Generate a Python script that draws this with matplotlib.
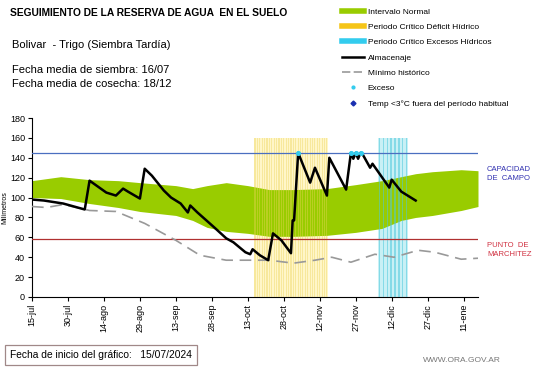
from matplotlib import pyplot as plt
from matplotlib.lines import Line2D
import numpy as np

plt.rcParams['font.family'] = ['Liberation Sans', 'DejaVu Sans']

# days since 15-jul-2024
tick_days = [0, 15, 30, 45, 60, 75, 90, 105, 120, 135, 150, 165, 180]
tick_labels = ['15-jul', '30-jul', '14-ago', '29-ago', '13-sep', '28-sep', '13-oct',
               '28-oct', '12-nov', '27-nov', '12-dic', '27-dic', '11-ene']

# normal interval (green band)
band_days = [0, 12, 24, 36, 45, 60, 67, 73, 81, 90, 99, 109, 123, 135, 146, 154, 160, 167, 179, 186]
band_upper = [117, 121, 118, 117, 115, 112, 109, 112, 115, 112, 108, 108, 109, 113, 117, 121, 124, 126, 128, 127]
band_lower = [100, 99, 94, 90, 86, 82, 77, 70, 66, 64, 61, 61, 62, 65, 69, 77, 80, 82, 87, 91]

# historical minimum
min_days = [0, 6, 13, 24, 35, 47, 60, 70, 81, 91, 99, 109, 118, 125, 133, 143, 151, 161, 168, 179, 186]
min_vals = [91, 90, 93, 87, 86, 74, 57, 42, 37, 37, 37, 34, 37, 40, 35, 43, 40, 47, 45, 38, 39]

# soil water storage
alm_days = [0, 5, 13, 22, 24, 31, 35, 38, 40, 45, 47, 50, 55, 58, 62, 65, 66, 69, 76, 81, 84, 89, 91,
            92, 95, 98.5, 100.5, 104, 108, 108.7, 109.3, 110, 111, 116, 118, 123, 124, 131, 133,
            134, 135, 136, 137, 138, 141, 142, 149, 150, 154, 160]
alm_vals = [98, 97, 94, 88, 117, 105, 102, 109, 106, 99, 129, 122, 107, 100, 94, 85, 92, 85, 70, 59, 55, 45, 43,
            48, 42, 37, 64, 57, 44, 77, 77, 105, 145, 115, 130, 102, 140, 108, 145,
            139, 145, 139, 145, 143, 130, 134, 110, 118, 106, 97]

# excess points
exc_days = [111, 133, 135, 137]
exc_vals = [145, 145, 145, 145]

capacidad = 145
marchitez = 58

# critical periods
deficit_start, deficit_end = 93, 123
excess_start, excess_end = 145, 156

fig = plt.figure(figsize=(5.41, 3.68), dpi=100)
ax = fig.add_axes([32/541, 1-297/368, 446/541, 179/368])

# critical period stripes
yd = np.arange(deficit_start, deficit_end + 1)
ax.bar(yd, 160, width=1.0, color='#FFF6C8', zorder=1)
ax.bar(yd, 160, width=0.45, color='#EDD45A', zorder=3, alpha=0.4)
cd = np.arange(excess_start, excess_end + 1, 1.6)
ax.bar(cd, 160, width=1.6, color='#C8F0F5', zorder=1)
ax.bar(cd, 160, width=0.6, color='#4FC8DC', zorder=3, alpha=0.55)

ax.fill_between(band_days, band_lower, band_upper, color='#99CC00', lw=0, zorder=2)

ax.axhline(capacidad, color='#4A6FC0', lw=0.9, zorder=4)
ax.axhline(marchitez, color='#B03030', lw=0.9, zorder=4)

ax.plot(min_days, min_vals, color='#999999', lw=1.2, ls=(0, (7, 4)), zorder=4)
ax.plot(alm_days, alm_vals, color='black', lw=1.8, zorder=5)
ax.scatter(exc_days, exc_vals, s=7, color='#33CCEE', zorder=6)

ax.set_xlim(0, 186)
ax.set_ylim(0, 180)
ax.set_yticks(range(0, 181, 20))
ax.set_xticks(tick_days)
ax.set_xticklabels(tick_labels, rotation=90)
ax.tick_params(labelsize=6.5, length=3, width=0.8, pad=2)
ax.spines['top'].set_visible(False)
ax.spines['right'].set_visible(False)
ax.set_ylabel('Milímetros', fontsize=5, labelpad=1)

fig.text(487/541, 1-174/368, 'CAPACIDAD\nDE  CAMPO',
         color='#3030B0', fontsize=5.5, va='center', linespacing=1.3)
fig.text(487/541, 1-250/368, 'PUNTO  DE\nMARCHITEZ',
         color='#D03040', fontsize=5.5, va='center', linespacing=1.3)

fig.text(10/541, 1-13/368, 'SEGUIMIENTO DE LA RESERVA DE AGUA  EN EL SUELO', fontsize=7.4,
         fontweight='bold', va='center')
fig.text(12/541, 1-45/368, 'Bolivar  - Trigo (Siembra Tardía)', fontsize=8, va='center')
fig.text(12/541, 1-70/368, 'Fecha media de siembra: 16/07', fontsize=8, va='center')
fig.text(12/541, 1-84/368, 'Fecha media de cosecha: 18/12', fontsize=8, va='center')

handles = [
    Line2D([], [], color='#99CC00', lw=4),
    Line2D([], [], color='#F5C518', lw=4),
    Line2D([], [], color='#33CCEE', lw=4),
    Line2D([], [], color='black', lw=1.8),
    Line2D([], [], color='#999999', lw=1.2, ls=(0, (5, 2))),
    Line2D([], [], color='#33CCEE', marker='o', ms=2, ls='none'),
    Line2D([], [], color='#1A2FB0', marker='D', ms=2.5, ls='none'),
]
labels = ['Intervalo Normal', 'Periodo Crítico Déficit Hídrico', 'Periodo Crítico Excesos Hídricos',
          'Almacenaje', 'Mínimo histórico', 'Exceso', 'Temp <3°C fuera del período habitual']
fig.legend(handles, labels, loc='upper left', bbox_to_anchor=(336/541, 1-2/368), frameon=False,
           fontsize=6, labelspacing=0.9, handlelength=2.6, handletextpad=0.5, borderpad=0.2)

fig.text(10/541, 1-355/368, 'Fecha de inicio del gráfico:   15/07/2024', fontsize=7.4, va='center',
         bbox=dict(boxstyle='square,pad=0.5', fc='white', ec='#A08888', lw=0.9))
fig.text(423/541, 1-360/368, 'WWW.ORA.GOV.AR', fontsize=6, color='#777777', va='center')

plt.savefig('out.png', dpi=100)
